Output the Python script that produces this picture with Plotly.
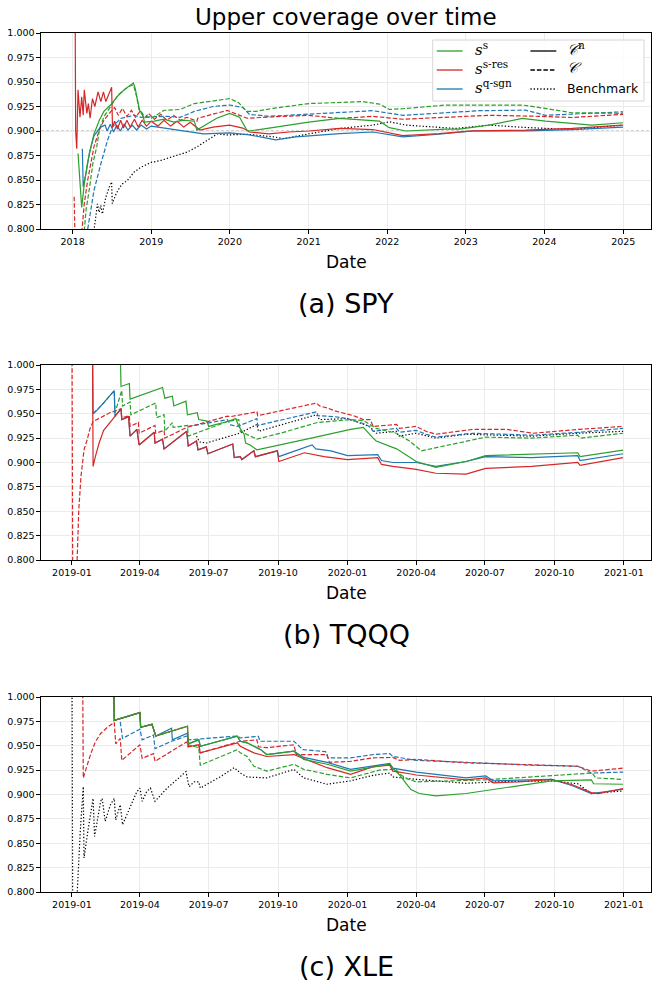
import plotly.graph_objects as go

# ---------------- DATA (date, value) ----------------
# Panel (a) SPY
a_ss_n = [("2018-01-26",0.877),("2018-02-12",0.822),("2018-02-24",0.846),("2018-03-10",0.866),("2018-03-26",0.883),
          ("2018-04-10",0.897),("2018-05-05",0.911),("2018-05-26",0.920),("2018-06-28",0.927),("2018-07-26",0.935),
          ("2018-08-28",0.942),("2018-09-26",0.947),("2018-10-10",0.949),("2018-10-18",0.944),("2018-10-24",0.938),
          ("2018-11-01",0.928),("2018-11-08",0.921),("2018-11-20",0.918),("2018-12-01",0.909),("2019-01-15",0.910),
          ("2019-03-01",0.912),("2019-04-15",0.909),("2019-06-01",0.911),("2019-07-20",0.910),("2019-08-01",0.901),
          ("2019-09-15",0.907),("2019-11-01",0.913),("2019-12-31",0.918),("2020-02-15",0.914),("2020-03-20",0.901),
          ("2020-04-01",0.900),("2020-07-01",0.903),("2020-10-01",0.906),("2021-01-01",0.909),("2021-05-25",0.9128),
          ("2021-11-26",0.910),("2022-01-11",0.9034),("2022-03-29",0.900),("2022-09-30",0.902),("2022-12-01",0.902),
          ("2023-04-19",0.906),("2023-09-20",0.9128),("2024-01-06",0.910),("2024-08-09",0.906),("2024-12-31",0.9084)]
a_ss_c = [("2018-02-24",0.798),("2018-03-04",0.819),("2018-03-21",0.843),("2018-04-05",0.867),("2018-04-23",0.884),
          ("2018-05-05",0.901),("2018-05-26",0.9145),("2018-06-28",0.925),("2018-08-01",0.937),("2018-09-15",0.945),
          ("2018-10-10",0.947),("2018-10-24",0.936),("2018-11-05",0.922),("2018-12-01",0.915),("2019-01-01",0.913),
          ("2019-03-01",0.921),("2019-05-15",0.922),("2019-07-20",0.928),("2019-10-01",0.930),("2019-12-31",0.933),
          ("2020-02-10",0.929),("2020-03-20",0.920),("2020-05-01",0.920),("2020-07-15",0.923),("2021-01-01",0.928),
          ("2021-05-25",0.929),("2021-09-09",0.930),("2021-11-26",0.9275),("2022-01-11",0.922),("2022-03-29",0.923),
          ("2022-09-30",0.9265),("2023-02-01",0.9265),("2023-09-20",0.9265),("2024-01-06",0.923),("2024-05-09",0.9186),
          ("2024-12-31",0.918)]
a_sr_n = [("2018-01-12",1.05),("2018-01-15",0.900),("2018-01-20",0.882),("2018-01-26",0.942),("2018-02-04",0.914),
          ("2018-02-12",0.935),("2018-02-19",0.916),("2018-02-24",0.942),("2018-03-08",0.918),("2018-03-15",0.928),
          ("2018-03-23",0.913),("2018-04-03",0.933),("2018-04-14",0.925),("2018-04-29",0.940),("2018-05-12",0.930),
          ("2018-05-24",0.940),("2018-06-04",0.930),("2018-07-01",0.9446),("2018-07-05",0.904),("2018-07-15",0.910),
          ("2018-07-28",0.902),("2018-08-12",0.911),("2018-08-25",0.903),("2018-09-10",0.911),("2018-09-25",0.904),
          ("2018-10-15",0.912),("2018-11-01",0.904),("2018-11-20",0.911),("2018-12-10",0.905),("2019-01-01",0.910),
          ("2019-02-01",0.905),("2019-03-01",0.911),("2019-04-01",0.905),("2019-05-01",0.910),("2019-06-01",0.904),
          ("2019-07-01",0.909),("2019-08-15",0.901),("2019-10-15",0.904),("2019-12-31",0.906),("2020-03-01",0.903),
          ("2020-04-01",0.899),("2020-07-01",0.897),("2020-10-01",0.899),("2021-01-01",0.900),("2021-05-25",0.9026),
          ("2021-10-26",0.9015),("2022-03-14",0.8953),("2022-08-30",0.8974),("2023-02-01",0.9001),("2023-10-05",0.9008),
          ("2024-05-09",0.9026),("2024-12-31",0.906)]
a_sr_c = [("2018-01-08",0.833),("2018-01-12",0.79),("2018-02-12",0.795),("2018-02-24",0.826),("2018-03-12",0.850),
          ("2018-03-26",0.868),("2018-04-10",0.884),("2018-05-05",0.901),("2018-05-26",0.911),("2018-06-28",0.920),
          ("2018-07-15",0.924),("2018-08-01",0.916),("2018-08-20",0.923),("2018-09-10",0.915),("2018-10-01",0.921),
          ("2018-10-20",0.914),("2018-11-10",0.920),("2018-12-01",0.913),("2018-12-20",0.918),("2019-01-15",0.912),
          ("2019-02-15",0.917),("2019-03-15",0.911),("2019-04-15",0.916),("2019-05-15",0.911),("2019-06-15",0.914),
          ("2019-08-01",0.910),("2019-08-05",0.913),("2019-12-20",0.921),("2020-03-21",0.913),("2020-07-23",0.9145),
          ("2020-12-31",0.916),("2021-05-25",0.9128),("2021-10-26",0.915),("2022-03-14",0.912),("2022-08-30",0.9138),
          ("2023-04-19",0.916),("2023-12-06",0.915),("2024-05-09",0.9138),("2024-12-31",0.917)]
a_sq_n = [("2018-02-15",0.882),("2018-02-19",0.843),("2018-03-05",0.858),("2018-03-20",0.878),("2018-04-10",0.895),
          ("2018-05-10",0.904),("2018-06-01",0.906),("2018-06-10",0.900),("2018-06-25",0.907),("2018-07-10",0.899),
          ("2018-07-25",0.906),("2018-08-10",0.900),("2018-08-28",0.907),("2018-09-15",0.901),("2018-10-05",0.906),
          ("2018-10-25",0.901),("2018-11-15",0.906),("2018-12-10",0.902),("2019-01-01",0.905),("2019-04-01",0.902),
          ("2019-07-01",0.899),("2019-09-01",0.897),("2020-01-01",0.898),("2020-04-01",0.896),("2020-06-15",0.893),
          ("2020-08-01",0.891),("2020-11-01",0.894),("2021-05-25",0.8974),("2021-10-26",0.899),("2022-03-14",0.894),
          ("2022-08-30",0.8967),("2023-02-01",0.900),("2023-10-05",0.9001),("2024-05-09",0.9015),("2024-12-31",0.904)]
a_sq_c = [("2018-03-12",0.800),("2018-04-10",0.8393),("2018-05-12",0.8666),("2018-05-26",0.877),("2018-06-12",0.8906),
          ("2018-07-05",0.9042),("2018-08-12",0.9128),("2018-10-13",0.916),("2018-11-15",0.914),("2019-01-01",0.9145),
          ("2019-03-15",0.915),("2019-05-15",0.914),("2019-07-20",0.920),("2019-10-15",0.925),("2019-12-31",0.9265),
          ("2020-03-01",0.924),("2020-04-01",0.917),("2020-07-01",0.915),("2021-01-01",0.917),("2021-05-25",0.9186),
          ("2021-10-26",0.9207),("2022-03-14",0.916),("2022-08-30",0.9186),("2023-03-04",0.9207),("2023-10-05",0.9213),
          ("2024-01-06",0.916),("2024-12-31",0.9196)]
a_bm = [("2018-04-10",0.798),("2018-04-26",0.8256),("2018-05-04",0.817),("2018-05-12",0.824),("2018-05-19",0.8153),
        ("2018-06-04",0.8324),("2018-06-20",0.8427),("2018-07-01",0.848),("2018-07-04",0.826),("2018-07-22",0.836),
        ("2018-08-08",0.8427),("2018-08-20",0.846),("2018-09-12",0.8495),("2018-10-13",0.858),("2018-11-13",0.863),
        ("2019-01-01",0.868),("2019-02-15",0.870),("2019-04-15",0.874),("2019-06-17",0.8785),("2019-08-03",0.884),
        ("2019-09-20",0.891),("2019-11-03",0.897),("2019-12-20",0.896),("2020-03-21",0.8967),("2020-07-23",0.894),
        ("2020-09-09",0.8922),("2020-12-31",0.897),("2021-05-25",0.9026),("2021-10-26",0.906),("2022-01-11",0.9094),
        ("2022-03-29",0.906),("2022-08-30",0.904),("2022-11-15",0.9026),("2023-04-19",0.906),("2023-10-05",0.9036),
        ("2024-05-09",0.9015),("2024-12-31",0.906)]

# Panel (b) TQQQ
b_ss_n = [("2019-03-05",1.05),("2019-03-07",0.978),("2019-03-18",0.981),("2019-03-19",0.965),("2019-05-01",0.977),
          ("2019-05-04",0.966),("2019-05-14",0.968),("2019-05-16",0.958),("2019-06-01",0.963),("2019-06-03",0.949),
          ("2019-06-16",0.951),("2019-06-18",0.944),("2019-06-29",0.9425),("2019-07-01",0.937),("2019-07-26",0.942),
          ("2019-08-06",0.945),("2019-08-10",0.937),("2019-08-17",0.929),("2019-08-19",0.920),("2019-08-25",0.918),
          ("2019-09-03",0.913),("2019-10-04",0.918),("2019-11-20",0.926),("2020-01-05",0.934),("2020-01-22",0.936),
          ("2020-02-04",0.925),("2020-02-08",0.922),("2020-03-06",0.914),("2020-03-23",0.906),("2020-04-01",0.901),
          ("2020-04-27",0.895),("2020-06-06",0.901),("2020-07-02",0.907),("2020-08-06",0.908),("2020-09-01",0.908),
          ("2020-11-01",0.910),("2020-11-04",0.906),("2020-12-31",0.9127)]
b_ss_c = [("2019-01-29",0.950),("2019-02-05",0.955),("2019-02-12",0.961),("2019-02-26",0.9737),
          ("2019-02-27",0.951),("2019-03-08",0.974),("2019-03-09",0.958),("2019-03-19",0.962),("2019-03-20",0.949),
          ("2019-04-22",0.961),("2019-04-23",0.946),("2019-05-03",0.949),("2019-05-04",0.932),("2019-05-14",0.941),
          ("2019-05-15",0.936),("2019-06-03",0.938),("2019-06-04",0.927),("2019-06-28",0.934),("2019-07-26",0.942),
          ("2019-08-10",0.944),("2019-08-12",0.932),("2019-09-03",0.924),("2019-10-04",0.930),("2019-11-22",0.941),
          ("2020-01-05",0.944),("2020-01-22",0.943),("2020-02-08",0.935),("2020-03-06",0.930),("2020-03-23",0.922),
          ("2020-04-08",0.912),("2020-07-02",0.926),("2020-09-01",0.925),("2020-11-01",0.928),("2020-11-04",0.925),
          ("2020-12-31",0.930)]
b_sr_n = [("2019-01-28",1.05),("2019-01-29",0.896),("2019-02-01",0.906),("2019-02-06",0.920),("2019-02-12",0.933),
          ("2019-02-19",0.940),("2019-02-28",0.949),("2019-03-07",0.955),("2019-03-08",0.944),("2019-03-17",0.947),
          ("2019-03-19",0.927),("2019-03-28",0.934),("2019-03-31",0.918),("2019-04-20",0.931),("2019-04-21",0.920),
          ("2019-05-01",0.924),("2019-05-03",0.914),("2019-06-02",0.932),("2019-06-04",0.917),("2019-06-15",0.922),
          ("2019-06-17",0.913),("2019-06-28",0.916),("2019-06-30",0.909),("2019-08-02",0.919),("2019-08-04",0.905),
          ("2019-08-12",0.906),("2019-08-14",0.903),("2019-08-30",0.912),("2019-09-01",0.906),("2019-09-30",0.912),
          ("2019-10-02",0.901),("2019-11-05",0.910),("2019-12-01",0.906),("2020-01-01",0.903),("2020-02-10",0.905),
          ("2020-02-15",0.898),("2020-03-01",0.896),("2020-04-01",0.893),("2020-04-27",0.889),("2020-06-06",0.888),
          ("2020-07-02",0.894),("2020-09-01",0.896),("2020-11-01",0.900),("2020-11-04",0.897),("2020-12-31",0.905)]
b_sr_c = [("2019-01-01",1.05),("2019-01-02",0.78),("2019-01-07",0.78),("2019-01-08",0.80),("2019-01-10",0.851),
          ("2019-01-13",0.886),("2019-01-17",0.913),("2019-01-21",0.923),("2019-01-25",0.935),("2019-01-29",0.942),
          ("2019-02-20",0.951),("2019-03-07",0.955),("2019-03-08",0.946),("2019-03-18",0.948),("2019-03-19",0.937),
          ("2019-03-30",0.941),("2019-03-31",0.930),("2019-04-21",0.938),("2019-04-22",0.930),("2019-05-03",0.933),
          ("2019-05-04",0.925),("2019-06-02",0.936),("2019-07-26",0.9475),("2019-07-30",0.947),("2019-09-03",0.952),
          ("2019-09-04",0.948),("2019-11-21",0.961),("2019-11-25",0.958),("2019-12-05",0.956),("2019-12-15",0.953),
          ("2020-01-01",0.950),("2020-01-09",0.948),("2020-01-22",0.944),("2020-01-31",0.944),("2020-02-04",0.937),
          ("2020-03-06",0.939),("2020-03-10",0.935),("2020-04-01",0.937),("2020-04-14",0.932),("2020-04-27",0.929),
          ("2020-06-15",0.934),("2020-07-30",0.934),("2020-09-03",0.930),("2020-11-03",0.934),("2020-12-31",0.937)]
b_sq_n = [("2019-01-28",1.05),("2019-01-29",0.950),("2019-02-05",0.955),("2019-02-12",0.961),("2019-02-26",0.9737),
          ("2019-02-27",0.947),("2019-02-28",0.949),("2019-03-07",0.955),("2019-03-08",0.944),("2019-03-17",0.947),
          ("2019-03-19",0.927),("2019-03-28",0.934),("2019-03-31",0.918),("2019-04-20",0.931),("2019-04-21",0.920),
          ("2019-05-01",0.924),("2019-05-03",0.914),("2019-06-02",0.932),("2019-06-04",0.917),("2019-06-15",0.922),
          ("2019-06-17",0.913),("2019-06-28",0.916),("2019-06-30",0.909),("2019-08-02",0.919),("2019-08-04",0.905),
          ("2019-08-12",0.906),("2019-08-14",0.903),("2019-08-30",0.912),("2019-09-01",0.906),("2019-09-30",0.912),
          ("2019-10-02",0.906),("2019-11-15",0.918),("2019-11-20",0.914),("2019-12-10",0.912),("2020-01-01",0.907),
          ("2020-02-10",0.908),("2020-02-15",0.902),("2020-03-01",0.900),("2020-04-01",0.900),("2020-04-27",0.896),
          ("2020-06-06",0.901),("2020-07-02",0.906),("2020-09-01",0.905),("2020-11-01",0.907),("2020-11-04",0.902),
          ("2020-12-31",0.909)]
b_sq_c = [("2019-06-04",0.937),("2019-07-26",0.944),("2019-07-30",0.9386),("2019-08-08",0.937),("2019-09-03",0.945),
          ("2019-09-04",0.938),("2019-11-21",0.952),("2019-11-23",0.948),("2019-12-15",0.947),("2020-01-01",0.945),
          ("2020-01-22",0.940),("2020-01-30",0.937),("2020-02-04",0.932),("2020-03-06",0.935),("2020-03-10",0.931),
          ("2020-04-01",0.933),("2020-04-14",0.929),("2020-04-27",0.926),("2020-06-15",0.930),("2020-09-03",0.928),
          ("2020-11-03",0.931),("2020-12-31",0.935)]
b_bm = [("2019-06-15",0.927),("2019-06-19",0.921),("2019-06-28",0.920),("2019-08-11",0.930),("2019-09-03",0.939),
        ("2019-09-05",0.932),("2019-11-21",0.949),("2019-11-25",0.944),("2020-01-01",0.945),("2020-01-30",0.937),
        ("2020-02-08",0.930),("2020-03-06",0.932),("2020-03-08",0.927),("2020-04-01",0.930),("2020-04-27",0.925),
        ("2020-06-06",0.929),("2020-09-01",0.927),("2020-11-01",0.930),("2020-12-31",0.932)]

# Panel (c) XLE
c_ss_n = [("2019-02-25",1.05),("2019-02-26",0.976),("2019-04-01",0.984),("2019-04-02",0.969),("2019-04-17",0.972),
          ("2019-04-22",0.960),("2019-06-03",0.970),("2019-06-04",0.952),("2019-06-18",0.956),("2019-06-20",0.9495),
          ("2019-08-08",0.9597),("2019-08-12",0.9546),("2019-08-21",0.953),("2019-08-30",0.9495),("2019-09-08",0.946),
          ("2019-09-16",0.941),("2019-10-22",0.9444),("2019-11-04",0.936),("2019-12-05",0.931),("2020-01-05",0.924),
          ("2020-02-26",0.931),("2020-03-01",0.927),("2020-03-10",0.920),("2020-03-18",0.912),("2020-03-25",0.905),
          ("2020-04-05",0.901),("2020-04-27",0.8986),("2020-06-06",0.901),("2020-07-19",0.906),("2020-09-27",0.914),
          ("2020-11-19",0.915),("2020-11-22",0.911),("2020-12-31",0.9105)]
c_ss_c = [("2019-02-25",1.05),("2019-02-26",0.976),("2019-04-01",0.984),("2019-04-02",0.969),("2019-04-17",0.972),
          ("2019-04-22",0.960),("2019-06-03",0.970),("2019-06-04",0.951),("2019-06-18",0.948),("2019-06-20",0.930),
          ("2019-08-08",0.946),("2019-08-12",0.9427),("2019-08-21",0.939),("2019-08-30",0.929),("2019-09-16",0.924),
          ("2019-10-22",0.931),("2019-11-04",0.9258),("2019-12-05",0.9207),("2020-01-05",0.917),("2020-02-12",0.925),
          ("2020-03-05",0.926),("2020-03-10",0.921),("2020-03-20",0.916),("2020-04-01",0.913),("2020-07-01",0.915),
          ("2020-10-01",0.920),("2020-11-20",0.922),("2020-11-25",0.917),("2020-12-31",0.9155)]
c_sr_n = [("2019-02-25",1.05),("2019-02-26",0.976),("2019-04-01",0.984),("2019-04-02",0.969),("2019-04-17",0.972),
          ("2019-04-22",0.960),("2019-06-03",0.970),("2019-06-04",0.949),("2019-06-18",0.951),("2019-06-20",0.9427),
          ("2019-08-08",0.953),("2019-08-12",0.9495),("2019-08-21",0.946),("2019-08-30",0.9427),("2019-09-16",0.939),
          ("2019-10-22",0.941),("2019-10-28",0.939),("2019-12-05",0.9275),("2020-01-05",0.9207),("2020-02-04",0.9285),
          ("2020-02-26",0.930),("2020-03-01",0.924),("2020-03-25",0.921),("2020-04-01",0.920),("2020-06-06",0.915),
          ("2020-07-02",0.917),("2020-07-12",0.912),("2020-08-15",0.913),("2020-09-27",0.9156),("2020-10-25",0.910),
          ("2020-11-19",0.902),("2020-11-28",0.901),("2020-12-31",0.906)]
c_sr_c = [("2019-01-15",1.05),("2019-01-16",0.917),("2019-01-22",0.932),("2019-01-26",0.942),("2019-02-01",0.954),
          ("2019-02-08",0.9626),("2019-02-17",0.969),("2019-02-26",0.974),("2019-02-28",0.952),("2019-03-06",0.9575),
          ("2019-03-08",0.935),("2019-04-01",0.951),("2019-04-04",0.937),("2019-04-19",0.942),("2019-04-21",0.934),
          ("2019-06-02",0.954),("2019-06-04",0.949),("2019-06-18",0.951),("2019-06-20",0.9427),("2019-08-08",0.953),
          ("2019-08-12",0.9546),("2019-09-03",0.956),("2019-09-05",0.949),("2019-09-16",0.948),("2019-10-22",0.951),
          ("2019-10-25",0.941),("2019-12-05",0.941),("2019-12-08",0.933),("2020-01-05",0.934),("2020-02-04",0.9376),
          ("2020-03-01",0.938),("2020-03-10",0.935),("2020-04-01",0.936),("2020-06-06",0.9325),("2020-09-03",0.930),
          ("2020-11-01",0.929),("2020-11-19",0.924),("2020-12-31",0.927)]
c_sq_n = [("2019-02-25",1.05),("2019-02-26",0.976),("2019-04-01",0.984),("2019-04-02",0.969),("2019-04-17",0.972),
          ("2019-04-22",0.960),("2019-05-13",0.968),("2019-05-14",0.956),("2019-06-03",0.963),("2019-06-04",0.952),
          ("2019-06-18",0.956),("2019-06-20",0.9495),("2019-08-08",0.9597),("2019-08-12",0.9546),("2019-08-21",0.953),
          ("2019-08-30",0.9495),("2019-09-08",0.946),("2019-09-16",0.941),("2019-10-22",0.9444),("2019-11-04",0.938),
          ("2019-12-05",0.933),("2020-01-05",0.9258),("2020-02-26",0.932),("2020-03-01",0.927),("2020-04-01",0.923),
          ("2020-06-06",0.917),("2020-07-02",0.919),("2020-07-12",0.914),("2020-09-27",0.9156),("2020-10-25",0.909),
          ("2020-11-19",0.901),("2020-12-31",0.9054)]
c_sq_c = [("2019-03-06",0.9745),("2019-03-09",0.9575),("2019-04-01",0.967),("2019-04-04",0.956),("2019-04-19",0.961),
          ("2019-04-21",0.947),("2019-05-11",0.954),("2019-06-02",0.960),("2019-06-04",0.956),("2019-06-18",0.957),
          ("2019-08-08",0.960),("2019-08-12",0.958),("2019-09-05",0.9597),("2019-09-07",0.9546),("2019-10-22",0.9546),
          ("2019-11-03",0.946),("2019-12-03",0.944),("2019-12-06",0.9376),("2020-01-05",0.9376),("2020-02-04",0.941),
          ("2020-02-26",0.942),("2020-03-01",0.939),("2020-04-01",0.935),("2020-06-06",0.933),("2020-09-03",0.930),
          ("2020-11-01",0.929),("2020-11-19",0.922),("2020-12-31",0.923)]
c_bm = [("2019-01-01",1.05),("2019-01-02",0.78),("2019-01-08",0.80),("2019-01-12",0.862),("2019-01-16",0.908),
        ("2019-01-17",0.835),("2019-01-22",0.862),("2019-01-29",0.896),("2019-01-31",0.857),("2019-02-08",0.893),
        ("2019-02-10",0.896),("2019-02-14",0.8725),("2019-02-21",0.8895),("2019-02-26",0.896),("2019-02-28",0.874),
        ("2019-03-06",0.8895),("2019-03-09",0.869),("2019-03-17",0.883),("2019-03-28",0.903),("2019-04-01",0.9065),
        ("2019-04-04",0.893),("2019-04-10",0.903),("2019-04-15",0.9065),("2019-04-21",0.893),("2019-05-07",0.9065),
        ("2019-06-01",0.9235),("2019-06-05",0.908),("2019-06-12",0.913),("2019-06-18",0.913),("2019-06-20",0.9065),
        ("2019-07-16",0.918),("2019-08-04",0.9275),("2019-08-12",0.922),("2019-08-21",0.918),("2019-09-16",0.917),
        ("2019-10-22",0.9258),("2019-11-04",0.917),("2019-12-05",0.9105),("2020-01-05",0.914),("2020-02-04",0.9197),
        ("2020-02-26",0.922),("2020-03-01",0.918),("2020-04-01",0.9156),("2020-06-06",0.9115),("2020-07-19",0.913),
        ("2020-09-27",0.914),("2020-11-01",0.911),("2020-11-19",0.901),("2020-12-31",0.9037)]

Y_TICKS = [0.800, 0.825, 0.850, 0.875, 0.900, 0.925, 0.950, 0.975, 1.000]
TITLES = ["(a) SPY", "(b) TQQQ", "(c) XLE"]
MAIN_TITLE = "Upper coverage over time"

GREEN, RED, BLUE = "#2ca02c", "#d62728", "#1f77b4"

panels = [
    dict(n=[a_sq_n, a_sr_n, a_ss_n], c=[a_sq_c, a_sr_c, a_ss_c], bm=a_bm,
         rng=["2017-08-07", "2025-05-10"], dtick="M12", fmt="%Y", tick0="2018-01-01"),
    dict(n=[b_sq_n, b_sr_n, b_ss_n], c=[b_sq_c, b_sr_c, b_ss_c], bm=b_bm,
         rng=["2018-11-21", "2021-02-06"], dtick="M3", fmt="%Y-%m", tick0="2019-01-01"),
    dict(n=[c_sq_n, c_sr_n, c_ss_n], c=[c_sq_c, c_sr_c, c_ss_c], bm=c_bm,
         rng=["2018-11-21", "2021-02-06"], dtick="M3", fmt="%Y-%m", tick0="2019-01-01"),
]
COLS = [BLUE, RED, GREEN]

# ---------------- FIGURE ----------------
W, H = 659, 989
ML, MR, MT, MB = 40, 7, 33, 97
PH = H - MT - MB
def py2paper(py):
    return (H - MB - py) / PH

tops = [33, 365, 697]
bots = [229, 560, 892]

fig = go.Figure()
for i, p in enumerate(panels):
    xa = "x" if i == 0 else f"x{i+1}"
    ya = "y" if i == 0 else f"y{i+1}"
    def add(series, color, dash, width=1.2):
        xs = [d for d, v in series]
        ys = [v for d, v in series]
        fig.add_trace(go.Scatter(x=xs, y=ys, mode="lines", xaxis=xa, yaxis=ya, showlegend=False,
                                 line=dict(color=color, dash=dash, width=width), hoverinfo="skip"))
    add(p["bm"], "black", "1.3px,2px", 1.2)
    for s, col in zip(p["c"], COLS):
        add(s, col, "4.5px,2px")
    for s, col in zip(p["n"], COLS):
        add(s, col, "solid")

    axis_common = dict(showline=True, mirror=True, linecolor="black", linewidth=1.1,
                       ticks="outside", ticklen=3.5, tickwidth=0.8, tickcolor="black",
                       showgrid=True, gridcolor="#ebebeb", gridwidth=0.8, zeroline=False,
                       tickfont=dict(family="DejaVu Sans", size=9.5, color="black"))
    xkey = "xaxis" if i == 0 else f"xaxis{i+1}"
    ykey = "yaxis" if i == 0 else f"yaxis{i+1}"
    fig.update_layout({
        xkey: dict(axis_common, type="date", range=p["rng"], dtick=p["dtick"], tick0=p["tick0"],
                   tickformat=p["fmt"], anchor=ya, domain=[0, 1]),
        ykey: dict(axis_common, range=[0.8, 1.0], tickvals=Y_TICKS, tickformat=".3f", anchor=xa,
                   domain=[py2paper(bots[i]), py2paper(tops[i])]),
    })
    fig.add_shape(type="line", xref=f"{xa} domain", yref=ya, x0=0, x1=1, y0=0.9, y1=0.9,
                  line=dict(color="#9a9a9a", width=0.9, dash="3px,2px"), layer="below")
    # axis label and caption
    fig.add_annotation(text="Date", xref="paper", yref="paper", x=0.5, y=py2paper(bots[i] + 33),
                       xanchor="center", yanchor="middle",
                       showarrow=False, font=dict(family="DejaVu Sans", size=17, color="black"))
    fig.add_annotation(text=TITLES[i], xref="paper", yref="paper", x=0.5, y=py2paper(bots[i] + 74),
                       xanchor="center", yanchor="middle",
                       showarrow=False, font=dict(family="DejaVu Sans", size=27, color="black"))

fig.add_annotation(text=MAIN_TITLE, xref="paper", yref="paper", x=0.5, y=py2paper(17),
                   xanchor="center", yanchor="middle",
                   showarrow=False, font=dict(family="DejaVu Sans", size=23, color="black"))

# ---------------- custom two-column legend in panel (a) ----------------
def dx(px):
    return (px - ML) / (W - ML - MR)
def dy(py):
    return (bots[0] - py) / (bots[0] - tops[0])

fig.add_shape(type="rect", xref="x domain", yref="y domain", x0=dx(433), x1=dx(645), y0=dy(101), y1=dy(40),
              line=dict(color="#cccccc", width=0.8), fillcolor="rgba(255,255,255,0.85)", layer="above")
rows = [51, 70, 89]
left_labels = ["<i>s</i><sup>s</sup>", "<i>s</i><sup>s-res</sup>", "<i>s</i><sup>q-sgn</sup>"]
left_cols = [GREEN, RED, BLUE]
right_labels = ["<i>𝒞</i><sup>n</sup>", "<i>𝒞</i>", "Benchmark"]
right_dash = ["solid", "4.5px,2px", "1.3px,2px"]
for r, lab, col in zip(rows, left_labels, left_cols):
    fig.add_shape(type="line", xref="x domain", yref="y domain", x0=dx(437), x1=dx(463), y0=dy(r), y1=dy(r),
                  line=dict(color=col, width=1.3), layer="above")
    fig.add_annotation(text=lab, xref="x domain", yref="y domain", x=dx(473), y=dy(r), xanchor="left",
                       yanchor="middle", yshift=2,
                       showarrow=False, font=dict(family="DejaVu Serif", size=15, color="black"))
for r, lab, ds in zip(rows, right_labels, right_dash):
    fig.add_shape(type="line", xref="x domain", yref="y domain", x0=dx(531), x1=dx(557), y0=dy(r), y1=dy(r),
                  line=dict(color="black", width=1.3, dash=ds), layer="above")
    bench = lab == "Benchmark"
    fig.add_annotation(text=lab, xref="x domain", yref="y domain", x=dx(566), y=dy(r), xanchor="left",
                       yanchor="middle", yshift=0 if bench else 2,
                       showarrow=False, font=dict(family="DejaVu Sans" if bench else "DejaVu Serif",
                                                  size=12.5 if bench else 15, color="black"))

fig.update_layout(width=W, height=H, margin=dict(l=ML, r=MR, t=MT, b=MB),
                  paper_bgcolor="white", plot_bgcolor="white", showlegend=False)
fig.write_html("out.html")
